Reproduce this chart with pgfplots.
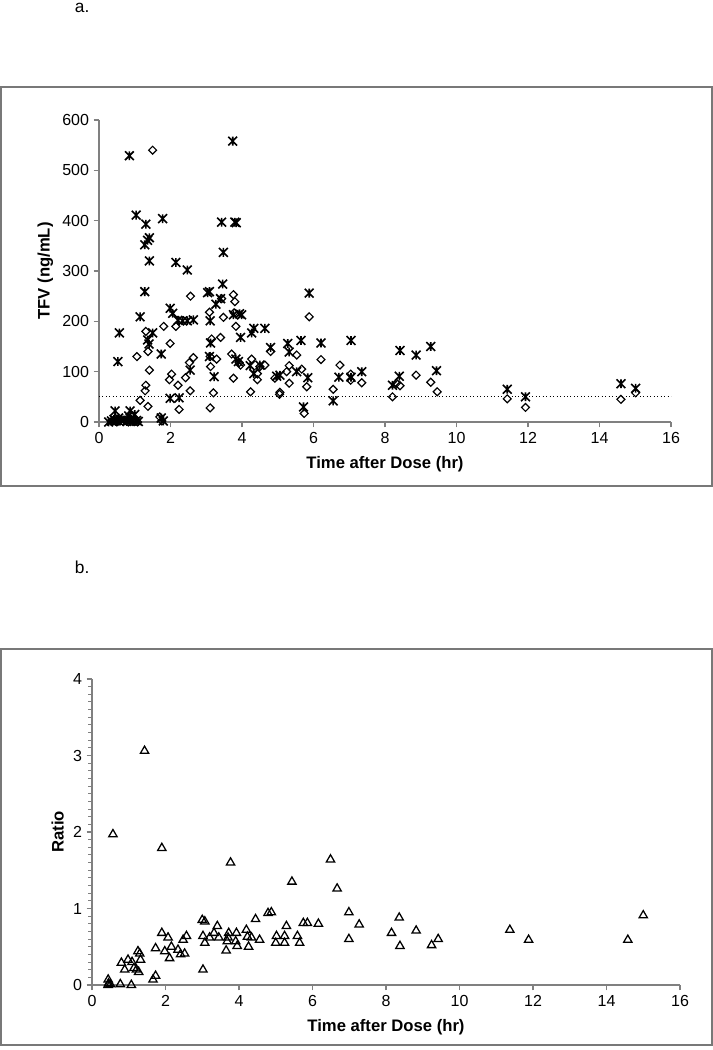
\documentclass[border=0pt]{standalone}
\usepackage{fontspec}
\setmainfont{Liberation Sans}
\usepackage{pgfplots}
\pgfplotsset{compat=1.18}
\definecolor{axgray}{RGB}{128,128,128}
\definecolor{framegray}{RGB}{120,120,120}
\pgfdeclareplotmark{xstar}{%
  \pgfpathmoveto{\pgfqpoint{-\pgfplotmarksize}{-\pgfplotmarksize}}%
  \pgfpathlineto{\pgfqpoint{\pgfplotmarksize}{\pgfplotmarksize}}%
  \pgfpathmoveto{\pgfqpoint{-\pgfplotmarksize}{\pgfplotmarksize}}%
  \pgfpathlineto{\pgfqpoint{\pgfplotmarksize}{-\pgfplotmarksize}}%
  \pgfpathmoveto{\pgfqpoint{0pt}{-\pgfplotmarksize}}%
  \pgfpathlineto{\pgfqpoint{0pt}{\pgfplotmarksize}}%
  \pgfusepathqstroke}

\pgfplotstableread{
x y
0.27 0
0.35 2
0.42 5
0.45 22
0.48 2
0.55 8
0.62 3
0.70 4
0.78 1
0.83 12
0.87 22
0.90 5
0.95 2
1.00 15
1.05 3
1.10 1
1.74 8
1.80 2
0.53 120
0.57 177
0.85 529
1.04 411
1.15 209
1.28 259
1.31 393
1.41 366
1.36 361
1.28 352
1.41 320
1.50 177
1.36 163
1.40 155
1.74 135
1.78 404
1.99 47
2.24 48
1.99 226
2.06 216
2.15 317
2.21 202
2.34 201
2.47 201
2.64 203
2.47 302
2.55 103
3.09 259
3.04 257
3.11 201
3.12 157
3.09 130
3.22 90
3.27 234
3.40 245
3.43 397
3.48 337
3.46 274
3.74 558
3.80 397
3.84 396
3.76 213
3.93 215
3.99 213
3.96 168
3.83 125
3.90 120
4.23 112
4.33 96
4.50 113
4.27 177
4.33 186
4.64 186
4.80 148
4.97 91
5.06 93
5.28 156
5.32 139
5.53 100
5.65 162
5.84 88
5.72 30
5.88 256
6.21 157
6.55 42
6.71 89
7.05 162
7.05 89
7.35 100
8.21 73
8.40 91
8.42 142
8.87 133
9.28 150
9.44 102
11.42 65
11.93 50
14.60 76
15.01 67
}\stars

\pgfplotstableread{
x y
0.35 1
0.42 3
0.50 0
0.55 2
0.62 5
0.68 1
0.75 3
0.82 0
0.88 4
0.95 1
1.02 2
1.08 0
1.50 540
1.81 190
2.15 190
1.31 180
1.99 156
1.06 130
1.37 140
1.41 103
1.31 73
1.29 62
1.15 43
1.37 31
2.03 95
1.97 84
2.21 73
2.24 25
2.42 88
1.70 10
1.76 2
2.56 250
2.53 118
2.64 128
2.55 62
3.09 218
3.15 165
3.11 130
3.12 110
3.29 125
3.20 58
3.11 28
3.43 245
3.48 208
3.40 168
3.76 253
3.80 239
3.78 217
3.83 190
3.71 135
3.76 87
3.92 118
3.96 113
4.27 125
4.43 96
4.43 84
4.24 60
4.50 110
4.64 113
4.80 140
4.92 87
5.05 55
5.06 59
5.25 100
5.32 112
5.32 77
5.53 133
5.67 105
5.81 70
5.74 17
5.88 209
6.21 124
6.55 65
6.74 113
7.04 95
7.04 83
7.35 78
8.21 50
8.32 77
8.42 72
8.87 93
9.28 79
9.46 60
11.42 46
11.93 29
14.60 45
15.01 58
}\diamonds

\pgfplotstableread{
x y
0.44 0.07
0.45 0.02
0.44 0.00
0.50 0.01
0.57 1.97
0.77 0.01
0.80 0.29
0.89 0.20
0.98 0.33
1.07 0.00
1.09 0.30
1.14 0.22
1.21 0.20
1.27 0.17
1.25 0.44
1.30 0.41
1.32 0.33
1.43 3.06
1.66 0.07
1.73 0.12
1.73 0.48
1.90 1.79
1.90 0.68
1.98 0.44
2.07 0.62
2.11 0.35
2.16 0.50
2.34 0.46
2.41 0.40
2.52 0.41
2.48 0.59
2.57 0.64
3.00 0.85
3.07 0.83
3.02 0.64
3.07 0.55
3.02 0.20
3.20 0.62
3.32 0.68
3.41 0.77
3.45 0.62
3.65 0.45
3.68 0.57
3.70 0.62
3.72 0.68
3.77 1.60
3.91 0.57
3.93 0.68
3.95 0.51
4.20 0.72
4.23 0.63
4.26 0.50
4.34 0.62
4.45 0.86
4.56 0.59
4.79 0.94
4.88 0.95
5.00 0.55
5.02 0.64
5.24 0.55
5.24 0.64
5.29 0.77
5.44 1.35
5.59 0.64
5.65 0.55
5.75 0.81
5.86 0.81
6.16 0.80
6.49 1.64
6.67 1.26
6.99 0.95
6.99 0.60
7.27 0.79
8.15 0.68
8.36 0.88
8.38 0.51
8.82 0.71
9.24 0.52
9.42 0.60
11.37 0.72
11.88 0.59
14.58 0.59
15.00 0.91
}\ratios

\pgfplotsset{
  excelstyle/.style={
    scale only axis,
    anchor=south west,
    axis x line*=bottom,
    axis y line*=left,
    axis line style={draw=axgray, line width=0.8pt},
    every tick/.style={draw=axgray, line width=0.8pt},
    tick align=outside,
    major tick length=4pt,
    minor tick length=3pt,
    xmin=0, xmax=16,
    xtick={0,2,...,16},
    /pgf/number format/assume math mode=true,
    tick label style={font=\fontsize{12}{14}\selectfont, black},
    label style={font=\fontsize{12.5}{15}\selectfont\bfseries},
    xlabel style={yshift=-3pt},
    clip=false,
  }
}

\begin{document}
\begin{tikzpicture}
\path[use as bounding box] (0,0) rectangle (534.75pt,787.5pt);
% frames
\draw[framegray, line width=1.1pt] (0.9pt,423pt) rectangle (533.9pt,722.2pt);
\draw[framegray, line width=1.1pt] (0.9pt,3.9pt) rectangle (533.9pt,300.8pt);
\node[anchor=west, font=\fontsize{13}{15}\selectfont, inner sep=0pt] at (56pt,781.5pt) {a.};
\node[anchor=west, font=\fontsize{13}{15}\selectfont, inner sep=0pt] at (56pt,362pt) {b.};

\begin{axis}[excelstyle,
  at={(74.25pt,471pt)}, width=429pt, height=226.5pt,
  ymin=0, ymax=600, ytick={0,100,...,600},
  xlabel={Time after Dose (hr)}, ylabel={TFV (ng/mL)},
]
\addplot[black, dotted, line width=0.6pt, forget plot] coordinates {(0,50) (16,50)};
\addplot[only marks, mark=square, mark size=2.1pt, mark options={rotate=45, black, line width=0.9pt, fill=white}] table[x=x,y=y] {\diamonds};
\addplot[only marks, mark=xstar, mark size=3.3pt, mark options={black, line width=1.2pt}] table[x=x,y=y] {\stars};
\end{axis}

\begin{axis}[excelstyle,
  at={(69pt,48.75pt)}, width=441pt, height=229.5pt,
  ymin=0, ymax=4, ytick={0,1,2,3,4}, minor y tick num=9,
  xlabel={Time after Dose (hr)}, ylabel={Ratio},
]
\addplot[only marks, mark=triangle, mark size=3.6pt, mark options={black, line width=0.95pt, fill=white}] table[x=x,y=y] {\ratios};
\end{axis}
\end{tikzpicture}
\end{document}
